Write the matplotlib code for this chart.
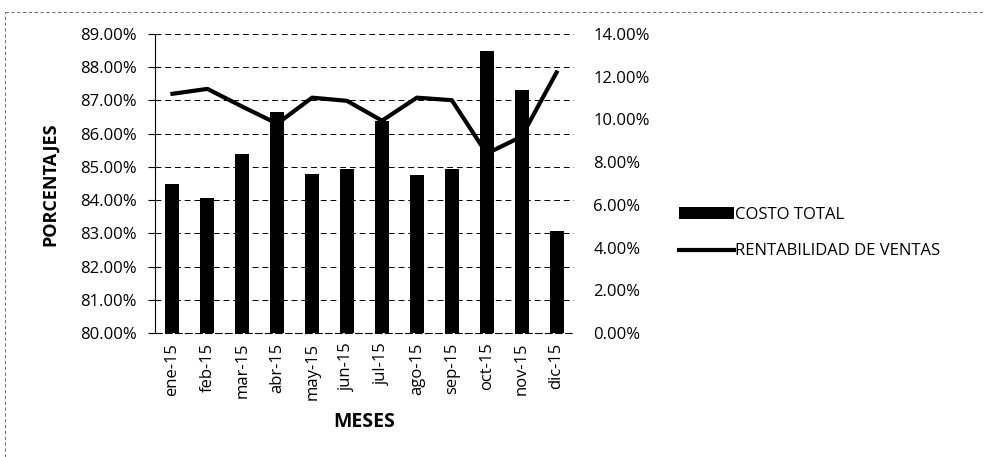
#recreating the cost / profitability chart
import matplotlib
matplotlib.use('Agg')
import matplotlib.pyplot as plt
from matplotlib.ticker import PercentFormatter, MultipleLocator
from matplotlib.lines import Line2D

#data
meses = ['ene-15', 'feb-15', 'mar-15', 'abr-15', 'may-15', 'jun-15',
         'jul-15', 'ago-15', 'sep-15', 'oct-15', 'nov-15', 'dic-15']
costo_total = [84.47, 84.07, 85.40, 86.65, 84.78, 84.95,
               86.38, 84.75, 84.95, 88.50, 87.30, 83.07]
rentabilidad = [11.20, 11.43, 10.60, 9.80, 11.02, 10.87,
                9.94, 11.02, 10.90, 8.40, 9.20, 12.20]

plt.rcParams['font.family'] = ['Open Sans', 'DejaVu Sans']

fig = plt.figure(figsize=(9.84, 4.57), dpi=100)
ax = fig.add_axes([155 / 984, 1 - 333 / 457, 419 / 984, 299 / 457])

x = list(range(len(meses)))

#bars on the left axis
ax.bar(x, [v - 80 for v in costo_total], bottom=80, width=0.4, color='black',
       label='COSTO TOTAL', zorder=3)
ax.set_ylim(80, 89)
ax.set_xlim(-0.5, len(meses) - 0.5)
ax.yaxis.set_major_locator(MultipleLocator(1))
ax.yaxis.set_major_formatter(PercentFormatter(decimals=2))
ax.grid(axis='y', color='black', linestyle=(0, (6, 4)), linewidth=0.7, zorder=0)
ax.set_xticks(x)
ax.set_xticklabels(meses, rotation=90, fontsize=12)
ax.tick_params(axis='y', labelsize=12, length=5, pad=8)
ax.tick_params(axis='x', length=0, pad=7)

#axis titles placed where they sit in the picture
ax.set_ylabel('PORCENTAJES', fontsize=13, fontweight='bold')
ax.yaxis.set_label_coords(50 / 984, 1 - 184 / 457, transform=fig.transFigure)
ax.yaxis.label.set_verticalalignment('center')
ax.set_xlabel('MESES', fontsize=14, fontweight='bold')
ax.xaxis.set_label_coords(364 / 984, 1 - 422 / 457, transform=fig.transFigure)
ax.xaxis.label.set_verticalalignment('center')
for side in ['top', 'right']:
    ax.spines[side].set_visible(False)
ax.spines['bottom'].set_linestyle((0, (6, 3)))
ax.spines['bottom'].set_linewidth(0.8)

#line on the right axis
ax2 = ax.twinx()
ax2.plot(x, rentabilidad, color='black', linewidth=3, label='RENTABILIDAD DE VENTAS',
         zorder=4)
ax2.set_ylim(0, 14)
ax2.yaxis.set_major_locator(MultipleLocator(2))
ax2.yaxis.set_major_formatter(PercentFormatter(decimals=2))
ax2.tick_params(axis='y', labelsize=12, length=0, pad=14)
for side in ['top', 'right', 'left', 'bottom']:
    ax2.spines[side].set_visible(False)

#legend on the right side
h1, l1 = ax.get_legend_handles_labels()
h2, l2 = ax2.get_legend_handles_labels()
fig.legend(h1 + h2, l1 + l2, loc='center left', bbox_to_anchor=(672 / 984, 1 - 233 / 457),
           frameon=False, fontsize=12, handlelength=3.3, handletextpad=0.1,
           labelspacing=1.25, borderaxespad=0)

#thin scanned border of the picture (top and left only)
fig.add_artist(Line2D([5 / 984, 1], [1 - 12 / 457, 1 - 12 / 457], transform=fig.transFigure,
                      color='#555555', linewidth=0.6, linestyle=(0, (4, 3))))
fig.add_artist(Line2D([5 / 984, 5 / 984], [0, 1 - 12 / 457], transform=fig.transFigure,
                      color='#555555', linewidth=0.6, linestyle=(0, (4, 3))))

fig.savefig('out.png', dpi=100)
